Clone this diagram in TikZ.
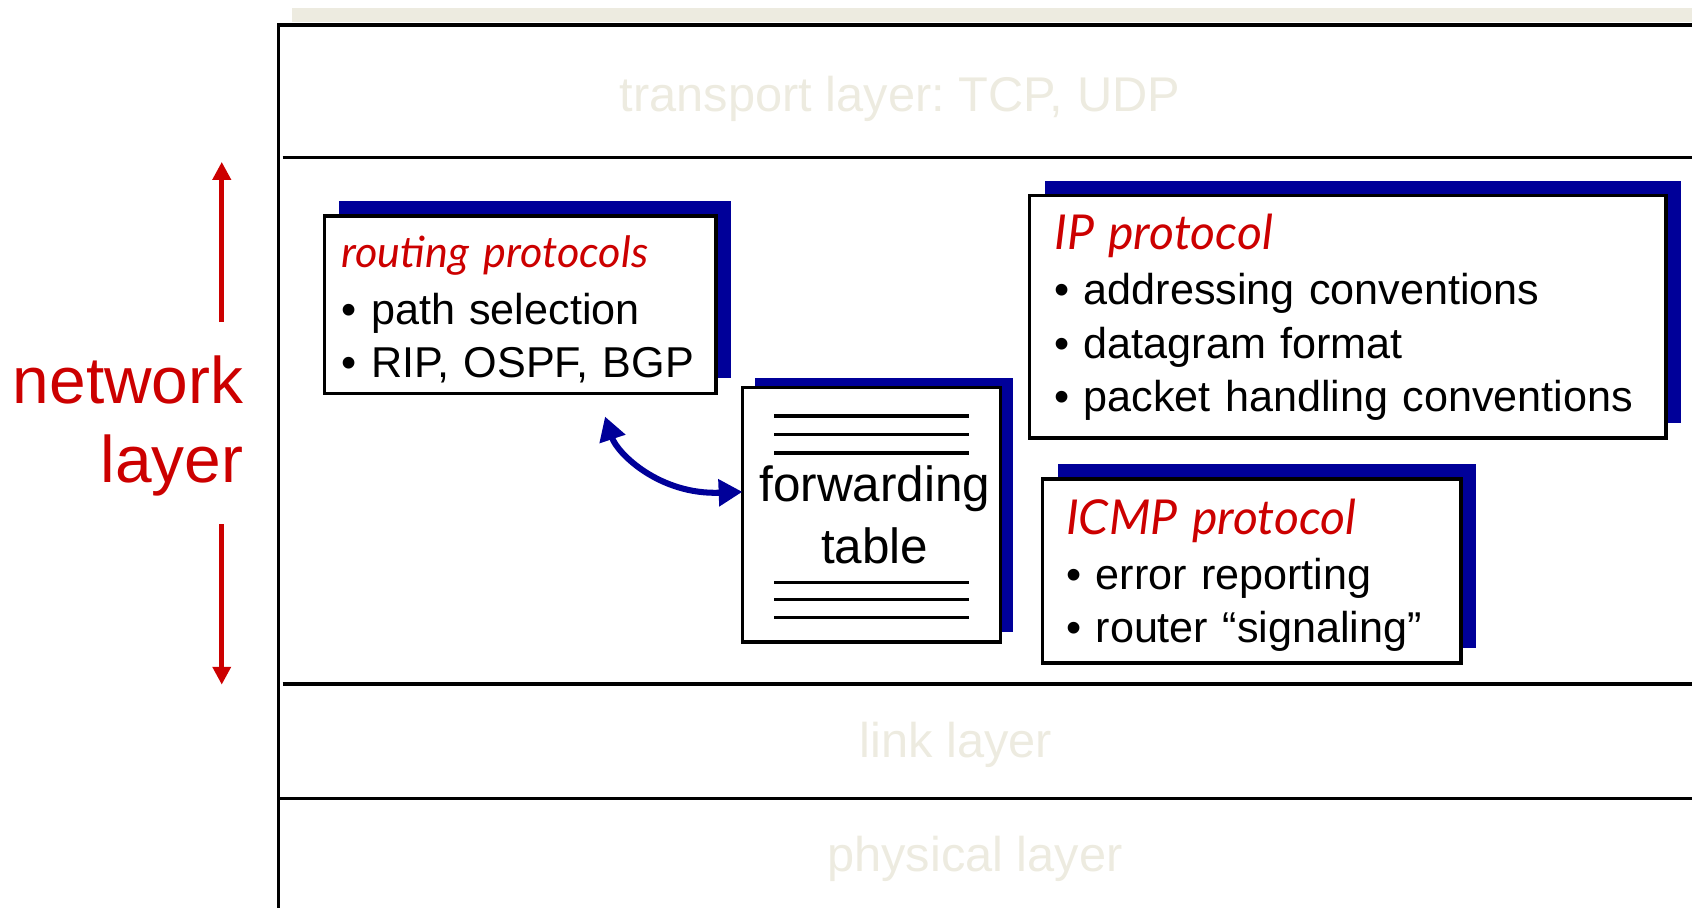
\documentclass[tikz,border=0pt]{standalone}
\usepackage{fontspec}
\setmainfont{Liberation Sans}
\newfontfamily\protfont{Lato}
\frenchspacing
\usetikzlibrary{arrows.meta,shadows}
\definecolor{netred}{RGB}{204,0,0}
\definecolor{boxblue}{RGB}{0,0,153}
\definecolor{layergray}{RGB}{237,235,224}
\newcommand{\prottitle}[3][20]{{\protfont\itshape\fontsize{#1}{24.8}\selectfont
    \color{netred}\rule{0pt}{#2}#3}}
\tikzset{
        layertext/.style = {inner sep=0pt, text=layergray,
            font=\fontsize{22.6}{27}\selectfont},
        boxbase/.style = {draw=black, line width=1.6pt, fill=white,
            outer sep=0pt},
        protbox/.style = {boxbase, anchor=north west, align=left,
            inner ysep=0pt, font=\fontsize{20}{24.8}\selectfont,
            drop shadow={shadow xshift=7pt, shadow yshift=7pt,
                fill=boxblue, opacity=1}},
        tablebox/.style = {boxbase, align=center,
            font=\fontsize{22.9}{28.5}\selectfont,
            drop shadow={shadow xshift=5.8pt, shadow yshift=4.6pt,
                fill=boxblue, opacity=1}},
        layerline/.style = {line width=1.6pt},
        tableline/.style = {line width=1.5pt},
        netarrow/.style = {->, draw=netred, line width=2.2pt}
    }

\begin{document}
\begin{tikzpicture}[x=0.5pt,y=-0.5pt,
        >={Triangle[length=8.3pt,width=8.2pt]}]
    \useasboundingbox (0,0) rectangle (1568,841);
    % layer stack
    \fill[layergray] (271,7.4) rectangle (1575,20.4);
    \draw[layerline] (258,845) -- (258,23) -- (1575,23);
    \draw[layerline] (262,146) -- (1575,146);
    \draw[layerline] (262,634) -- (1575,634);
    \draw[layerline] (258,740) -- (1575,740);
    \node[layertext] (trans) at (834,91.5) {transport layer: TCP, UDP};
    \node[layertext] (link) at (886,690.4) {link layer};
    \node[layertext] (phys) at (903.5,795.5) {physical layer};

    % network layer label
    \node[font=\fontsize{30.5}{36.75}\selectfont, text=netred, align=right,
        inner sep=0pt, anchor=east] (netl) at (226,395) {network\\layer};
    \coordinate (upfoot) at (205.5,298.5);
    \coordinate (uptip) at (205.5,150);
    \coordinate (dnfoot) at (205.5,485.8);
    \coordinate (dntip) at (205.5,634.5);
    \draw[netarrow] (upfoot) -- (uptip);
    \draw[netarrow] (dnfoot) -- (dntip);

    % protocol boxes
    \node[protbox, text width=165.5pt, minimum height=82.25pt,
        inner xsep=8pt] (rout) at (300.5,200)
        {\prottitle{19.2pt}{routing protocols}\\[1.8pt]
         \textbullet\ path selection\\
         \textbullet\ RIP, OSPF, BGP};
    \node[protbox, text width=272pt, minimum height=112.35pt,
        inner xsep=11.5pt] (ipp) at (954,181.3)
        {\prottitle[22.3]{16.9pt}{IP protocol}\\[1pt]
         \textbullet\ addressing conventions\\
         \textbullet\ datagram format\\
         \textbullet\ packet handling conventions};
    \node[protbox, text width=172pt, minimum height=85.25pt,
        inner xsep=11pt] (icmp) at (966,444)
        {\prottitle[22.3]{20.3pt}{ICMP protocol}\\[0.7pt]
         \textbullet\ error reporting\\
         \textbullet\ router “signaling”};

    % forwarding table
    \node[tablebox, minimum width=119.7pt, minimum height=117.85pt]
        (fwd) at (807.7,476.9) {\hspace{3pt}forwarding\\\hspace{3pt}table};
    \foreach \y in {-91.4,-74.4,-57,62.8,79,95}
        \draw[tableline] ([shift={(-90,\y)}]fwd.center) -- ++(180,0);
    \coordinate (rtip) at (560.7,386);
    \draw[<->, >={Triangle[length=11pt,width=12pt]}, draw=boxblue,
        line width=2.8pt]
        (rtip) .. controls +(11.3,34) and +(-77,3) .. (fwd.170);
\end{tikzpicture}
\end{document}
